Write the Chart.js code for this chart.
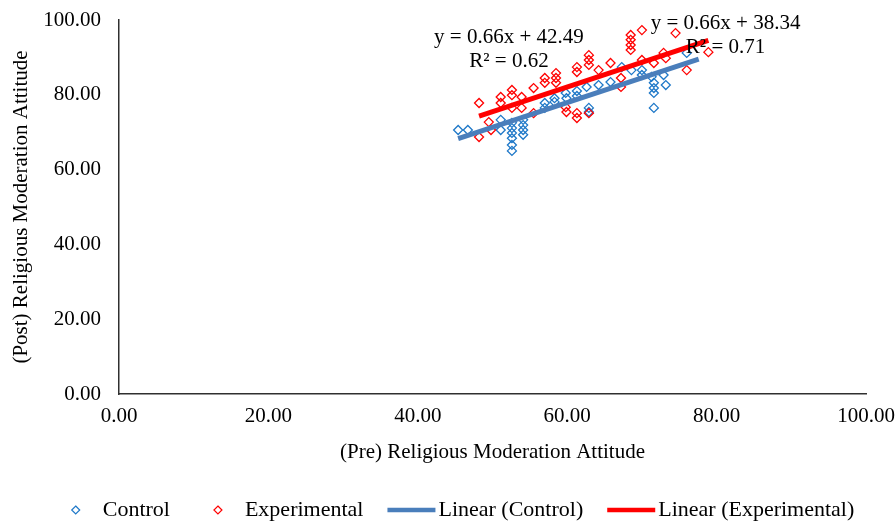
<!DOCTYPE html>
<html>
<head>
<meta charset="utf-8">
<script src="https://cdn.jsdelivr.net/npm/chart.js@4.4.1/dist/chart.umd.min.js"></script>
<style>
  body { margin: 0; background: #fff; }
  #wrap { width: 895px; height: 522px; }
</style>
</head>
<body>
<div id="wrap"><canvas id="chart" width="895" height="522"></canvas></div>
<script>
// scores
const controlX = [45.4, 46.7, 51.1, 51.1, 52.6, 52.6, 52.6, 52.6, 52.6, 52.6, 54.1, 54.1, 54.1, 54.1,
    57.0, 57.0, 58.3, 58.3, 59.8, 59.9, 61.3, 61.3, 62.6, 62.9, 62.9, 64.2, 65.8, 67.3, 68.6, 70.0,
    70.0, 71.3, 71.6, 71.6, 71.6, 71.6, 72.9, 73.2, 76.0];
const controlY = [70.6, 70.6, 73.3, 70.6, 72.5, 71.1, 69.8, 68.4, 66.6, 65.0, 73.3, 71.9, 70.6, 69.3,
    77.8, 76.5, 79.1, 78.1, 80.5, 79.1, 81.0, 79.7, 82.1, 76.5, 75.4, 82.6, 83.4, 87.4, 86.6, 86.6,
    85.3, 84.8, 83.2, 81.8, 80.5, 76.5, 85.3, 82.6, 91.2];

const expX = [48.2, 48.2, 49.5, 49.8, 51.1, 51.1, 52.6, 52.6, 52.6, 53.9, 53.9, 55.5, 55.5, 57.0, 57.0,
    58.5, 58.5, 58.5, 59.8, 59.9, 61.3, 61.3, 61.3, 61.3, 62.9, 62.9, 62.9, 62.9, 64.2, 65.8, 67.2,
    67.2, 68.5, 68.5, 68.5, 68.5, 70.0, 70.0, 71.6, 72.9, 73.2, 74.5, 76.0, 78.9];
const expY = [77.8, 68.7, 72.7, 70.6, 79.4, 77.8, 81.3, 79.9, 76.5, 79.4, 76.5, 81.8, 75.1, 84.5, 83.2,
    85.8, 84.5, 83.2, 76.7, 75.4, 87.4, 86.1, 75.1, 73.8, 90.6, 89.3, 88.0, 75.1, 86.6, 88.5, 84.5,
    82.1, 96.0, 94.7, 93.3, 92.0, 97.3, 89.3, 88.5, 91.2, 89.8, 96.5, 86.6, 91.4];

// trendline coefficients as printed on the chart
const controlFit = [0.66, 38.34, 0.71];   // slope, intercept, R²
const expFit = [0.66, 42.49, 0.62];
const controlTrendX = [45.4, 77.6];
const expTrendX = [48.2, 78.9];

const seriesNames = ['Control', 'Experimental', 'Linear (Control)', 'Linear (Experimental)'];

const FONT = '"Times New Roman", "Liberation Serif", serif';
const BLUE_PT = '#1E78C8';
const RED = '#FF0000';
const BLUE_LINE = '#4A7EBB';

function toPoints(xs, ys) {
    return xs.map((x, i) => ({ x: x, y: ys[i] }));
}

function trend(range, fit) {
    return range.map(x => ({ x: x, y: fit[0] * x + fit[1] }));
}

// equation labels, anchored in data units
const equationLabels = [
    { fit: expFit, x: 52.2, y: 95.2 },
    { fit: controlFit, x: 81.2, y: 99.2 }
];

const equationPlugin = {
    id: 'equations',
    afterDatasetsDraw(chart) {
        const ctx = chart.ctx;
        const xs = chart.scales.x, ys = chart.scales.y;
        ctx.save();
        ctx.font = '21px ' + FONT;
        ctx.fillStyle = '#000';
        ctx.textAlign = 'center';
        ctx.textBaseline = 'middle';
        equationLabels.forEach(l => {
            const px = xs.getPixelForValue(l.x);
            const py = ys.getPixelForValue(l.y);
            ctx.fillText(`y = ${l.fit[0].toFixed(2)}x + ${l.fit[1].toFixed(2)}`, px, py);
            ctx.fillText(`R² = ${l.fit[2].toFixed(2)}`, px, py + 24);
        });
        ctx.restore();
    }
};

// Excel-like legend: marker area, label, gap
const legendPlugin = {
    id: 'excelLegend',
    afterDraw(chart) {
        const ctx = chart.ctx;
        const symW = 48, textGap = 3, itemGap = 24, cy = 510;
        ctx.save();
        ctx.font = '22px ' + FONT;
        ctx.textBaseline = 'middle';
        ctx.textAlign = 'left';
        const items = [
            { type: 'pt', color: BLUE_PT },
            { type: 'pt', color: RED },
            { type: 'line', color: BLUE_LINE },
            { type: 'line', color: RED }
        ];
        let total = 0;
        items.forEach((it, i) => {
            it.w = ctx.measureText(seriesNames[i]).width;
            total += symW + textGap + it.w;
        });
        total += itemGap * (items.length - 1);
        let x = 453 - total / 2;
        items.forEach((it, i) => {
            if (it.type === 'pt') {
                const cx = x + symW / 2, r = 4;
                ctx.beginPath();
                ctx.moveTo(cx, cy - r);
                ctx.lineTo(cx + r, cy);
                ctx.lineTo(cx, cy + r);
                ctx.lineTo(cx - r, cy);
                ctx.closePath();
                ctx.strokeStyle = it.color;
                ctx.lineWidth = 1.2;
                ctx.stroke();
            } else {
                ctx.beginPath();
                ctx.moveTo(x, cy);
                ctx.lineTo(x + symW, cy);
                ctx.strokeStyle = it.color;
                ctx.lineWidth = 4.5;
                ctx.stroke();
            }
            ctx.fillStyle = '#000';
            ctx.fillText(seriesNames[i], x + symW + textGap, cy);
            x += symW + textGap + it.w + itemGap;
        });
        ctx.restore();
    }
};

const tickFmt = v => Number(v).toFixed(2);

new Chart(document.getElementById('chart'), {
    type: 'scatter',
    data: {
        datasets: [
            {
                label: seriesNames[3],
                type: 'line',
                data: trend(expTrendX, expFit),
                borderColor: RED,
                borderWidth: 5,
                pointRadius: 0,
                fill: false,
                order: 0
            },
            {
                label: seriesNames[2],
                type: 'line',
                data: trend(controlTrendX, controlFit),
                borderColor: BLUE_LINE,
                borderWidth: 5,
                pointRadius: 0,
                fill: false,
                order: 1
            },
            {
                label: seriesNames[1],
                data: toPoints(expX, expY),
                pointStyle: 'rectRot',
                pointRadius: 4.5,
                borderColor: RED,
                borderWidth: 1.3,
                backgroundColor: 'rgba(0,0,0,0)',
                order: 2
            },
            {
                label: seriesNames[0],
                data: toPoints(controlX, controlY),
                pointStyle: 'rectRot',
                pointRadius: 4.5,
                borderColor: BLUE_PT,
                borderWidth: 1.3,
                backgroundColor: 'rgba(0,0,0,0)',
                order: 3
            }
        ]
    },
    options: {
        responsive: false,
        devicePixelRatio: 1,
        animation: false,
        layout: { padding: { left: 0, right: 29, top: 20, bottom: 0 } },
        plugins: {
            legend: { display: false },
            tooltip: { enabled: false }
        },
        scales: {
            x: {
                type: 'linear',
                min: 0,
                max: 100,
                grid: { display: false, drawTicks: false },
                border: { display: true, color: '#303030', width: 1.5 },
                ticks: {
                    stepSize: 20,
                    padding: 10,
                    color: '#000',
                    font: { family: FONT, size: 21 },
                    maxRotation: 0,
                    callback: tickFmt
                },
                title: {
                    display: true,
                    text: '(Pre) Religious Moderation Attitude',
                    color: '#000',
                    font: { family: FONT, size: 21 },
                    padding: { top: 0, bottom: 57 }
                },
                afterFit(scale) {
                    scale.height = 128;
                    scale.paddingLeft = 0;
                    scale.paddingRight = 0;
                }
            },
            y: {
                type: 'linear',
                min: 0,
                max: 100,
                grid: { display: false, drawTicks: false },
                border: { display: true, color: '#303030', width: 1.5 },
                ticks: {
                    stepSize: 20,
                    padding: 18,
                    color: '#000',
                    font: { family: FONT, size: 21 },
                    callback: tickFmt
                },
                title: {
                    display: true,
                    text: '(Post) Religious Moderation Attitude',
                    color: '#000',
                    font: { family: FONT, size: 21 },
                    padding: { top: 9, bottom: 0 }
                },
                afterFit(scale) {
                    scale.width = 119;
                    scale.paddingTop = 0;
                    scale.paddingBottom = 0;
                }
            }
        }
    },
    plugins: [equationPlugin, legendPlugin]
});
</script>
</body>
</html>
